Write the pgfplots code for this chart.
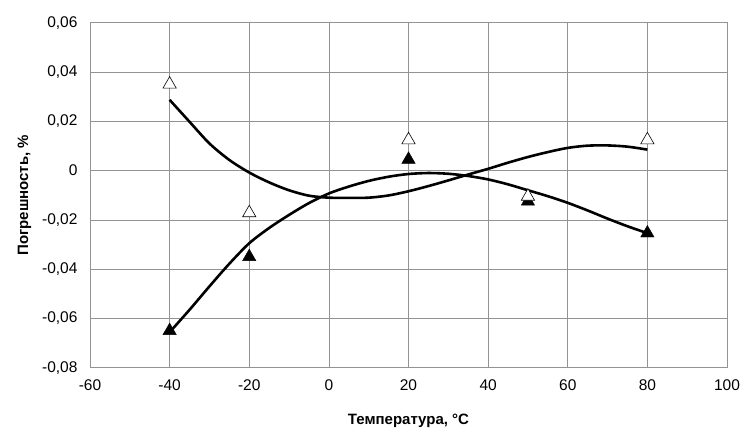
\documentclass[border=0pt]{standalone}
\usepackage{pgfplots}
\pgfplotsset{compat=1.18}
\usepackage{fontspec}
\setmainfont{Liberation Sans}
\begin{document}
\begin{tikzpicture}
\begin{axis}[
  scale only axis, width=637pt, height=345pt,
  xmin=-60, xmax=100, ymin=-0.08, ymax=0.06,
  xtick={-60,-40,...,100},
  ytick={-0.08,-0.06,-0.04,-0.02,0,0.02,0.04,0.06},
  yticklabels={{-0,08},{-0,06},{-0,04},{-0,02},{0},{0,02},{0,04},{0,06}},
  scaled y ticks=false,
  /pgf/number format/assume math mode=true,
  grid=major,
  major grid style={gray!85, line width=0.6pt},
  axis line style={gray!85, line width=0.8pt},
  major tick length=0pt,
  tick label style={font=\fontsize{15.5}{18}\selectfont},
  xticklabel style={yshift=-8pt},
  yticklabel style={xshift=-9pt},
  xlabel={\bfseries Температура, °C},
  ylabel={\bfseries Погрешность, \%},
  label style={font=\fontsize{15}{18}\selectfont},
  xlabel style={yshift=-17pt},
  ylabel style={yshift=4pt},
]
% trend curves
\addplot[black, line width=2.6pt, smooth] coordinates {
  (-40,0.0287) (-35,0.0198) (-30,0.0110) (-25,0.0043) (-20,-0.0008)
  (-15,-0.0048) (-10,-0.0080) (-5,-0.0102) (0,-0.0110) (5,-0.0111)
  (10,-0.0110) (15,-0.0101) (20,-0.0084) (25,-0.0063) (30,-0.0040)
  (35,-0.0016) (40,0.0007) (45,0.0032) (50,0.0055) (55,0.0075)
  (60,0.0092) (65,0.0101) (70,0.0102) (75,0.0097) (80,0.0085)
};
\addplot[black, line width=2.6pt, smooth] coordinates {
  (-40,-0.0656) (-35,-0.0565) (-30,-0.0470) (-25,-0.0378) (-20,-0.0295)
  (-15,-0.0233) (-10,-0.0180) (-5,-0.0132) (0,-0.0093) (5,-0.0065)
  (10,-0.0042) (15,-0.0025) (20,-0.0014) (25,-0.0010) (30,-0.0013)
  (35,-0.0022) (40,-0.0036) (45,-0.0056) (50,-0.0080) (55,-0.0104)
  (60,-0.0131) (65,-0.0162) (70,-0.0195) (75,-0.0226) (80,-0.0254)
};
% measured points
\addplot[only marks, mark=triangle*, mark size=7.7pt, black] coordinates {
  (-40,-0.0650) (-20,-0.0350) (20,0.0045) (50,-0.0125) (80,-0.0254)
};
\addplot[only marks, mark=triangle*, mark size=7.7pt, mark options={fill=white, draw=black, line width=0.6pt}] coordinates {
  (-40,0.0350) (-20,-0.0172) (20,0.0124) (50,-0.0105) (80,0.0124)
};
\end{axis}
\path (current axis.south west) +(-90pt,-70pt) (current axis.north east) +(23pt,22.7pt);
\end{tikzpicture}
\end{document}
